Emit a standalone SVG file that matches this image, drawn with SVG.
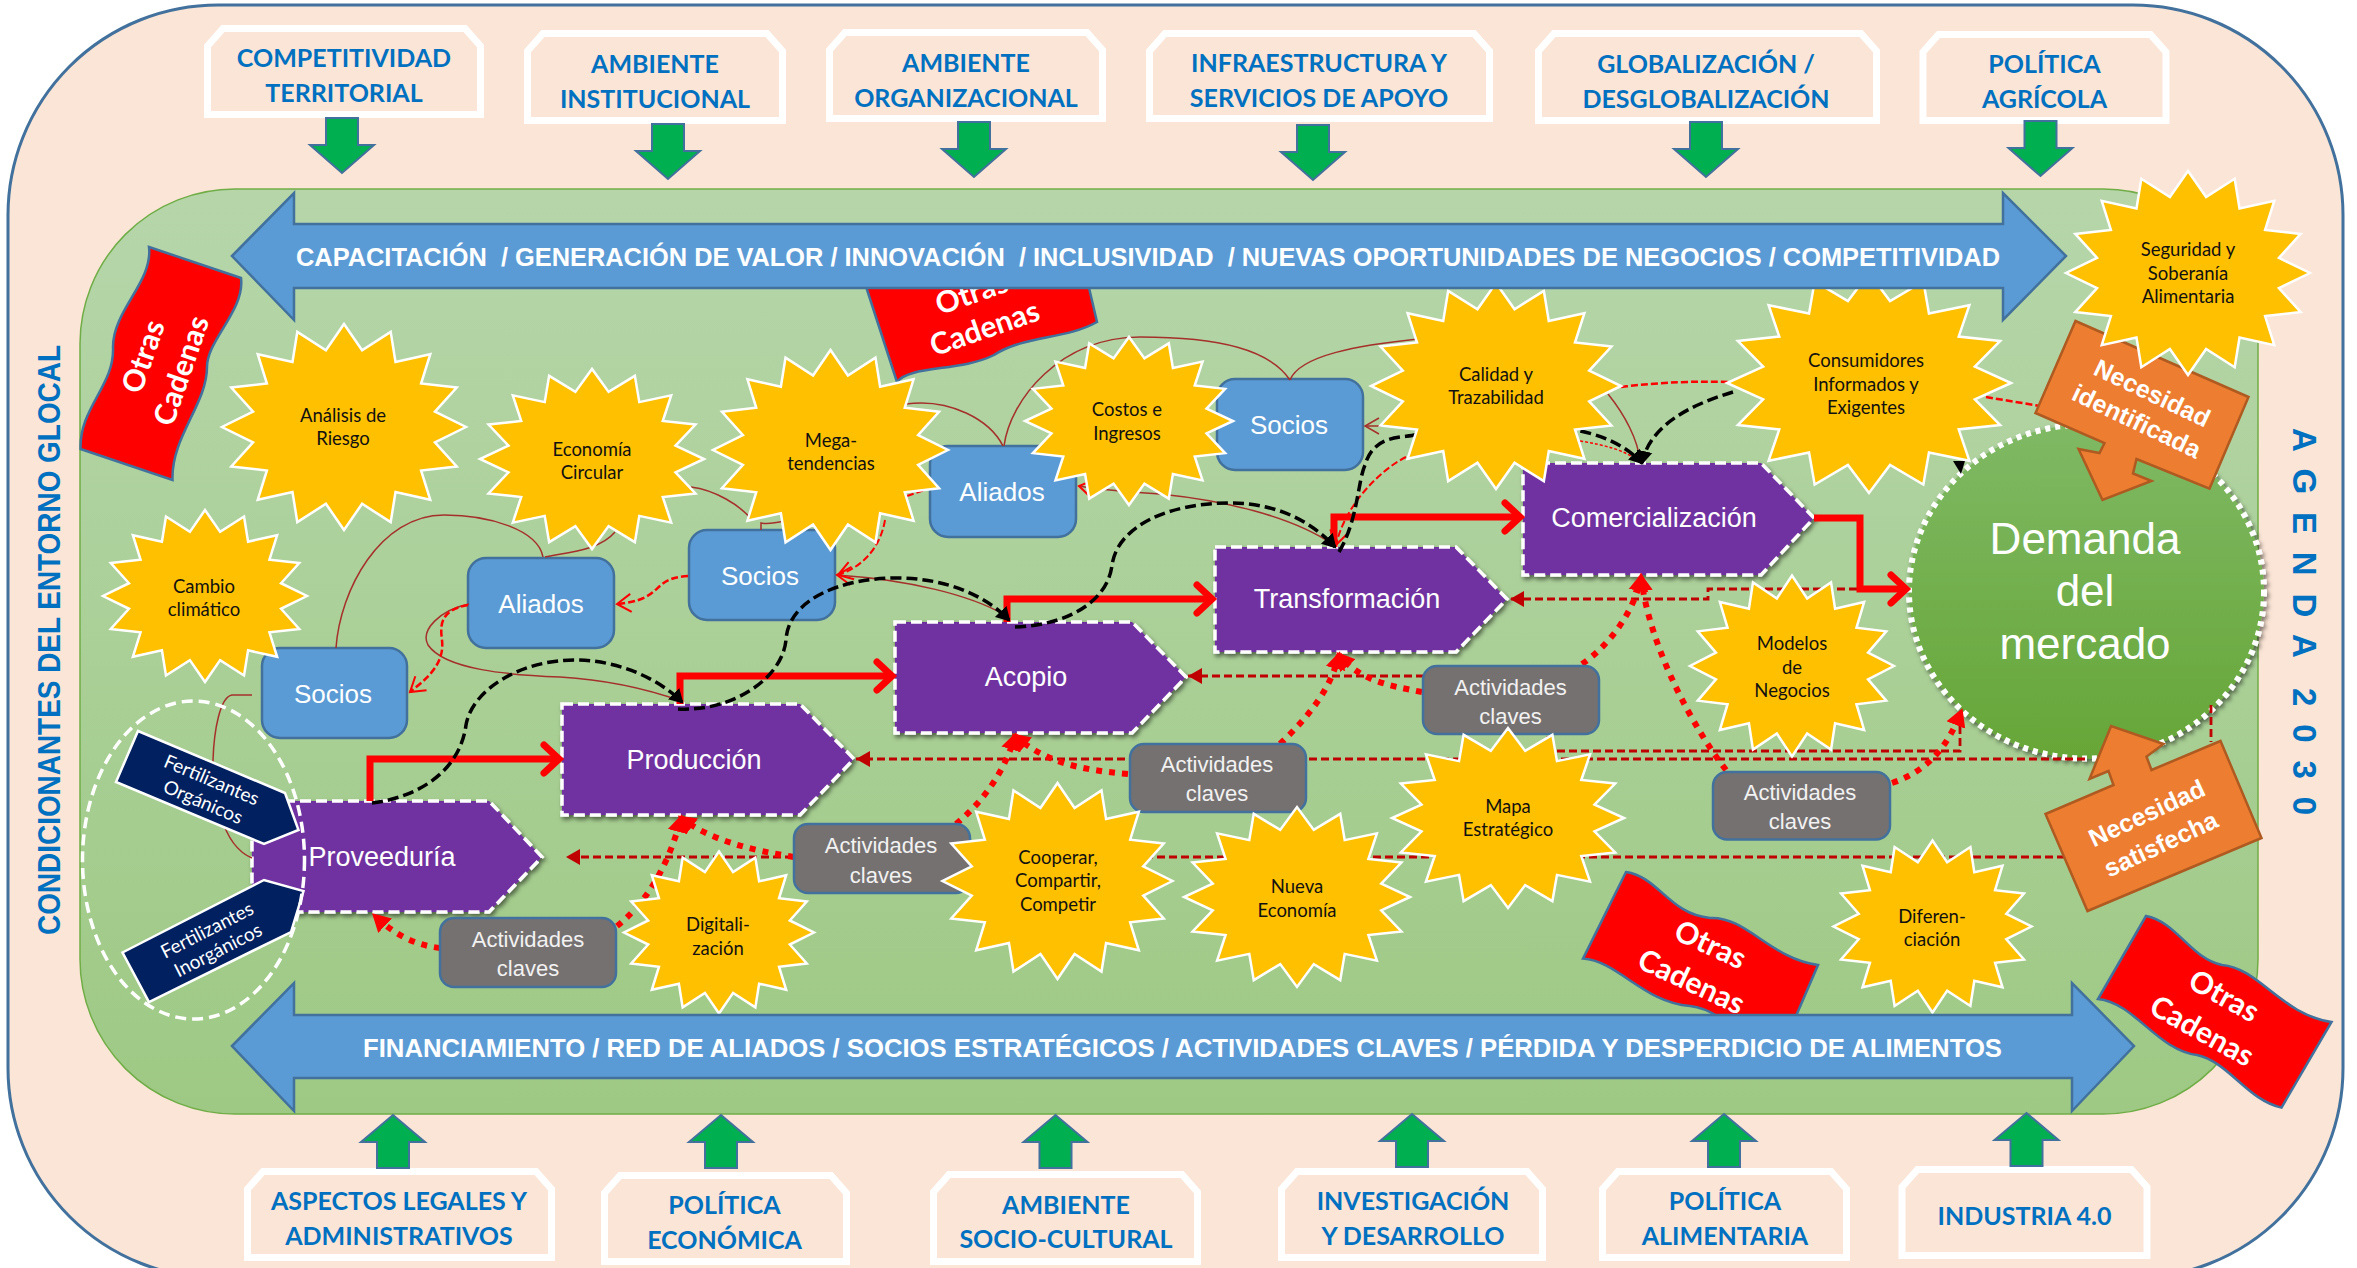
<svg xmlns="http://www.w3.org/2000/svg" width="2357" height="1268" viewBox="0 0 2357 1268">
<style>
.box{fill:none;stroke:#fff;stroke-width:7;stroke-linejoin:miter}
.bt{font:700 25px Lato,"Liberation Sans",sans-serif;fill:#0070c0;text-anchor:middle}
.bar{fill:#5b9bd5;stroke:#41719c;stroke-width:2.5}
.bart{font:700 26px "Liberation Sans",Arial,sans-serif;fill:#fff;white-space:pre}
.pr{fill:#7030a0;stroke:#fff;stroke-width:3.5;stroke-dasharray:11 5;filter:url(#sh)}
.prt{font:400 27px "Liberation Sans",Arial,sans-serif;fill:#fff;text-anchor:middle}
.bl{fill:#5b9bd5;stroke:#41719c;stroke-width:2.5}
.blt{font:400 26px "Liberation Sans",Arial,sans-serif;fill:#fff;text-anchor:middle}
.gr{fill:#767171;stroke:#41719c;stroke-width:2.5}
.grt{font:400 22px "Liberation Sans",Arial,sans-serif;fill:#f2f2f2;text-anchor:middle}
.st{font:400 18.5px Lato,"Liberation Sans",sans-serif;fill:#111;text-anchor:middle}
.nv{fill:#002060;stroke:#fff;stroke-width:2.5}
.nvt{font:400 19px Lato,"Liberation Sans",sans-serif;fill:#fff;text-anchor:middle}
.fl{fill:#f00;stroke:#41719c;stroke-width:2.5}
.flt{font:700 30px Lato,"Liberation Sans",sans-serif;fill:#fff;text-anchor:middle}
.or{fill:#ed7d31;stroke:#ae5a21;stroke-width:2.5}
.ort{font:700 25px "Liberation Sans",Arial,sans-serif;fill:#fff;text-anchor:middle}
.side{font:700 32px "Liberation Sans",Arial,sans-serif;fill:#0070c0;white-space:pre}
.thick{fill:none;stroke:#f00;stroke-width:7;marker-end:url(#mThick)}
.blk{fill:none;stroke:#000;stroke-width:3.5;stroke-dasharray:11 5;marker-end:url(#mBlk)}
.thin{fill:none;stroke:#a5302b;stroke-width:1.5}
.rd{fill:none;stroke:#f00;stroke-width:2;stroke-dasharray:7 3}
.dr{fill:none;stroke:#c00000;stroke-width:2.8;stroke-dasharray:8 4}
.dot{fill:none;stroke:#f00;stroke-width:6;stroke-dasharray:6 7;marker-end:url(#mDot)}
</style>
<defs>
<linearGradient id="gg" x1="0" y1="0" x2="0" y2="1"><stop offset="0" stop-color="#b6d6aa"/><stop offset="1" stop-color="#9ec984"/></linearGradient>
<linearGradient id="gd" x1="0" y1="0" x2="0" y2="1"><stop offset="0" stop-color="#7fb964"/><stop offset="1" stop-color="#66a637"/></linearGradient>
<filter id="sh" x="-10%" y="-10%" width="120%" height="125%"><feDropShadow dx="2" dy="3" stdDeviation="2" flood-color="#000" flood-opacity=".5"/></filter>
<polygon id="star" vector-effect="non-scaling-stroke" fill="#ffc000" stroke="#fff" stroke-width="2.5" points="1,0 .7454,.1483 .9239,.3827 .6319,.4222 .7071,.7071 .4222,.6319 .3827,.9239 .1483,.7454 0,1 -.1483,.7454 -.3827,.9239 -.4222,.6319 -.7071,.7071 -.6319,.4222 -.9239,.3827 -.7454,.1483 -1,0 -.7454,-.1483 -.9239,-.3827 -.6319,-.4222 -.7071,-.7071 -.4222,-.6319 -.3827,-.9239 -.1483,-.7454 0,-1 .1483,-.7454 .3827,-.9239 .4222,-.6319 .7071,-.7071 .6319,-.4222 .9239,-.3827 .7454,-.1483"/>
<polygon id="dn" fill="#00b050" stroke="#41719c" stroke-width="2" points="-16,0 16,0 16,27 32,27 0,55 -32,27 -16,27"/>
<polygon id="up" fill="#00b050" stroke="#41719c" stroke-width="2" points="0,0 32,27 16,27 16,53 -16,53 -16,27 -32,27"/>
<marker id="mThick" markerUnits="userSpaceOnUse" markerWidth="30" markerHeight="44" refX="24" refY="22" orient="auto"><path d="M9,8 L24,22 L9,36" fill="none" stroke="#f00" stroke-width="7" stroke-linecap="round"/></marker>
<marker id="mBlk" markerUnits="userSpaceOnUse" markerWidth="20" markerHeight="20" refX="12" refY="10" orient="auto"><path d="M0,2 L14,10 L0,18Z" fill="#000"/></marker>
<marker id="mDot" markerUnits="userSpaceOnUse" markerWidth="24" markerHeight="24" refX="14" refY="12" orient="auto"><path d="M0,2 L18,12 L0,22Z" fill="#f00"/></marker>
<marker id="mDr" markerUnits="userSpaceOnUse" markerWidth="16" markerHeight="18" refX="14" refY="9" orient="auto"><path d="M0,1 L14,9 L0,17Z" fill="#c00000"/></marker>
<marker id="mOpen" markerUnits="userSpaceOnUse" markerWidth="18" markerHeight="20" refX="15" refY="10" orient="auto"><path d="M1,1 L15,10 L1,19" fill="none" stroke="#f00" stroke-width="2"/></marker>
<marker id="mOpenB" markerUnits="userSpaceOnUse" markerWidth="18" markerHeight="20" refX="15" refY="10" orient="auto"><path d="M1,2 L15,10 L1,18" fill="none" stroke="#a5302b" stroke-width="1.5"/></marker>
</defs>

<g id="frame"><rect x="8" y="5" width="2335" height="1273" rx="210" ry="210" fill="#fbe5d6" stroke="#41719c" stroke-width="3"/></g>
<g id="inner"><rect x="80" y="189" width="2178" height="925" rx="155" ry="155" fill="url(#gg)" stroke="#70ad47" stroke-width="1.5"/></g>

<g id="top-competitividad"><polygon class="box" points="207.5,46 223,28.5 465,28.5 480.5,46 480.5,114.5 207.5,114.5"/><text class="bt" x="344" y="67">COMPETITIVIDAD</text><text class="bt" x="344" y="102">TERRITORIAL</text><use href="#dn" x="342" y="118"/></g>
<g id="top-institucional"><polygon class="box" points="527.5,51 543,33.5 767,33.5 782.5,51 782.5,120.5 527.5,120.5"/><text class="bt" x="655" y="73">AMBIENTE</text><text class="bt" x="655" y="108">INSTITUCIONAL</text><use href="#dn" x="668" y="124"/></g>
<g id="top-organizacional"><polygon class="box" points="829.5,50 845,32.5 1087,32.5 1102.5,50 1102.5,118.5 829.5,118.5"/><text class="bt" x="966" y="72">AMBIENTE</text><text class="bt" x="966" y="107">ORGANIZACIONAL</text><use href="#dn" x="974" y="122"/></g>
<g id="top-infraestructura"><polygon class="box" points="1149.5,51 1165,33.5 1474,33.5 1489.5,51 1489.5,118.5 1149.5,118.5"/><text class="bt" x="1319" y="72">INFRAESTRUCTURA Y</text><text class="bt" x="1319" y="107">SERVICIOS DE APOYO</text><use href="#dn" x="1313" y="125"/></g>
<g id="top-globalizacion"><polygon class="box" points="1538.5,51 1554,33.5 1861,33.5 1876.5,51 1876.5,120.5 1538.5,120.5"/><text class="bt" x="1706" y="73">GLOBALIZACIÓN /</text><text class="bt" x="1706" y="108">DESGLOBALIZACIÓN</text><use href="#dn" x="1706" y="122"/></g>
<g id="top-agricola" transform="translate(-2.5,0)"><polygon class="box" points="1925.5,52 1941,34.5 2153,34.5 2168.5,52 2168.5,120.5 1925.5,120.5"/><text class="bt" x="2047" y="73">POLÍTICA</text><text class="bt" x="2047" y="108">AGRÍCOLA</text><use href="#dn" x="2043" y="121"/></g>

<g id="bot-legales"><polygon class="box" points="247.5,1189 263,1171.5 536,1171.5 551.5,1189 551.5,1257.5 247.5,1257.5"/><text class="bt" x="399" y="1210">ASPECTOS LEGALES Y</text><text class="bt" x="399" y="1244.5">ADMINISTRATIVOS</text><use href="#up" x="393" y="1115"/></g>
<g id="bot-economica"><polygon class="box" points="604.5,1193 620,1175.5 831,1175.5 846.5,1193 846.5,1261.5 604.5,1261.5"/><text class="bt" x="724.5" y="1214">POLÍTICA</text><text class="bt" x="724.5" y="1249">ECONÓMICA</text><use href="#up" x="721" y="1115"/></g>
<g id="bot-sociocultural"><polygon class="box" points="933.5,1192 949,1174.5 1182,1174.5 1197.5,1192 1197.5,1261.5 933.5,1261.5"/><text class="bt" x="1066" y="1213.5">AMBIENTE</text><text class="bt" x="1066" y="1248">SOCIO-CULTURAL</text><use href="#up" x="1055.5" y="1115"/></g>
<g id="bot-investigacion"><polygon class="box" points="1281.5,1189 1297,1171.5 1527,1171.5 1542.5,1189 1542.5,1257.5 1281.5,1257.5"/><text class="bt" x="1413" y="1210">INVESTIGACIÓN</text><text class="bt" x="1413" y="1244.5">Y DESARROLLO</text><use href="#up" x="1412" y="1114"/></g>
<g id="bot-alimentaria" transform="translate(-1,0)"><polygon class="box" points="1603.5,1189 1619,1171.5 1832,1171.5 1847.5,1189 1847.5,1257.5 1603.5,1257.5"/><text class="bt" x="1726" y="1210">POLÍTICA</text><text class="bt" x="1726" y="1244.5">ALIMENTARIA</text><use href="#up" x="1725" y="1114"/></g>
<g id="bot-industria" transform="translate(-2.5,0)"><polygon class="box" points="1904.5,1187 1920,1169.5 2134,1169.5 2149.5,1187 2149.5,1255.5 1904.5,1255.5"/><text class="bt" x="2027" y="1225">INDUSTRIA 4.0</text><use href="#up" x="2029" y="1113"/></g>

<text class="side" transform="translate(60,935) rotate(-90)" textLength="590" lengthAdjust="spacingAndGlyphs">CONDICIONANTES DEL ENTORNO GLOCAL</text>
<text class="side" style="font-size:33px" transform="translate(2293,428) rotate(90)" textLength="387" lengthAdjust="spacing">A G E N D A  2 0 3 0</text>

<g id="flag-2"><path class="fl" d="M858,262 L1083,262 L1097,322 C1065,340 1025,335 994,355 C960,372 910,365 897,382 Z"/><text class="flt" transform="translate(975,303) rotate(-19)">Otras</text><text class="flt" transform="translate(988,338) rotate(-19)">Cadenas</text></g>
<g id="flag-3"><path class="fl" d="M1626,872 C1659,877 1669,914 1710,918 C1746,916 1771,959 1818,965 L1777,1060 C1747,1050 1727,1010 1690,1006 C1644,1003 1618,961 1583,958.6 Z"/><text class="flt" transform="translate(1706,954) rotate(25)">Otras</text><text class="flt" transform="translate(1687,991) rotate(25)">Cadenas</text></g>

<g id="proveeduria"><polygon class="pr" points="252,801 489,801 542,857 489,912 252,912"/><text class="prt" x="382" y="866">Proveeduría</text></g>
<g id="produccion"><polygon class="pr" points="562,704 800,704 854,759 800,815 562,815"/><text class="prt" x="694" y="769">Producción</text></g>
<g id="acopio"><polygon class="pr" points="895,622 1132,622 1186,677 1132,733 895,733"/><text class="prt" x="1026" y="686">Acopio</text></g>
<g id="transformacion"><polygon class="pr" points="1215,547 1456,547 1507,599 1456,652 1215,652"/><text class="prt" x="1347" y="608">Transformación</text></g>
<g id="comercializacion"><polygon class="pr" points="1523,463 1761,463 1814,518 1761,575 1523,575"/><text class="prt" x="1654" y="527">Comercialización</text></g>
<g id="demanda"><ellipse cx="2086.5" cy="591.5" rx="177.5" ry="167" fill="url(#gd)" stroke="#fff" stroke-width="6" stroke-dasharray="5 5" filter="url(#sh)"/><text x="2085" y="554" font-family="Liberation Sans, Arial, sans-serif" font-size="44" fill="#fff" text-anchor="middle">Demanda</text><text x="2085" y="606" font-family="Liberation Sans, Arial, sans-serif" font-size="44" fill="#fff" text-anchor="middle">del</text><text x="2085" y="659" font-family="Liberation Sans, Arial, sans-serif" font-size="44" fill="#fff" text-anchor="middle">mercado</text></g>

<g id="socios-1"><rect class="bl" x="262" y="648" width="145" height="90" rx="18"/><text class="blt" x="333" y="703">Socios</text></g>
<g id="aliados-1"><rect class="bl" x="468" y="558" width="146" height="90" rx="18"/><text class="blt" x="541" y="613">Aliados</text></g>
<g id="socios-2"><rect class="bl" x="689" y="530" width="146" height="90" rx="18"/><text class="blt" x="760" y="585">Socios</text></g>
<g id="aliados-2"><rect class="bl" x="930" y="446" width="146" height="91" rx="18"/><text class="blt" x="1002" y="501">Aliados</text></g>
<g id="socios-3"><rect class="bl" x="1217" y="379" width="146" height="91" rx="18"/><text class="blt" x="1289" y="434">Socios</text></g>

<g id="connectors">
<path class="dr" marker-end="url(#mDr)" d="M2065,857 H566"/>
<path class="dr" marker-end="url(#mDr)" d="M2085,759 H856"/>
<path class="dr" marker-end="url(#mDr)" d="M1960,726 V751 H1548 V676 H1188"/>
<path class="dr" marker-end="url(#mDr)" d="M1905,589 H1708 V599 H1510"/>
<path class="dr" d="M2211,705 V742"/>
<path class="thin" d="M543,557 C538,530 490,515 444,515 C380,515 340,590 336,648"/>
<path class="thin" d="M545,557 C570,552 600,550 615,532"/>
<path class="thin" d="M469,604 C440,610 420,630 428,645 C445,670 510,675 560,677 C610,680 650,690 681,701"/>
<path class="thin" d="M252,695 H232 C220,697 214,730 213,760 C213,790 220,845 252,858"/>
<path class="thin" d="M691,487 C715,490 740,505 752,520"/>
<path class="thin" d="M761,530 V523 C770,525 780,522 790,520"/>
<path class="thin" d="M906,404 C950,398 990,420 1003,446"/>
<path class="thin" d="M1004,446 C1010,400 1060,337 1140,337 C1220,337 1270,350 1290,380"/>
<path class="thin" d="M1290,380 C1300,355 1360,345 1418,339"/>
<path class="thin" marker-end="url(#mOpenB)" d="M1387,426 H1365"/>
<path class="thin" marker-end="url(#mOpen)" d="M1334,545 C1290,515 1220,500 1160,494 C1130,492 1100,490 1079,486"/>
<path class="thin" marker-end="url(#mOpen)" d="M1005,615 C970,595 910,580 837,575"/>
<path class="thin" d="M1608,394 C1625,415 1638,440 1640,461"/>
<path class="rd" marker-end="url(#mOpen)" d="M885,520 C880,550 860,568 838,575"/>
<path class="rd" style="stroke-width:2.5" marker-end="url(#mOpen)" d="M688,576 C650,578 665,600 617,604"/>
<path class="rd" style="stroke-width:2.5" marker-end="url(#mOpen)" d="M468,605 C440,610 440,625 442,640 C445,665 425,680 410,692"/>
<path class="rd" marker-end="url(#mOpen)" d="M1406,457 C1380,470 1345,505 1336,545"/>
<path class="rd" d="M907,496 L925,490"/>
<path class="rd" style="stroke-width:2.5" d="M1621,387 C1660,382 1700,381 1730,382"/>
<path class="rd" style="stroke-width:1.5;stroke-dasharray:3 2" d="M1580,441 C1605,445 1625,450 1640,462"/>
<path class="rd" style="stroke-width:2.5" d="M1986,397 L2040,406"/>
<path class="thick" d="M370,801 V759 H559"/>
<path class="thick" d="M680,704 V676 H892"/>
<path class="thick" d="M1007,622 V599 H1212"/>
<path class="thick" d="M1334,547 V517 H1520"/>
<path class="thick" d="M1814,518 H1860 V589 H1906"/>
<path class="blk" d="M372,803 C420,797 460,770 466,725 C472,690 520,660 575,660 C620,660 660,680 682,702"/>
<path class="blk" d="M678,709 C730,712 782,680 786,640 C788,600 840,578 897,578 C945,578 985,595 1009,620"/>
<path class="blk" d="M1015,627 C1070,625 1108,600 1112,565 C1118,525 1170,503 1230,503 C1275,503 1310,520 1335,547"/>
<path class="blk" d="M1339,552 C1358,520 1358,480 1365,465 C1375,430 1410,440 1420,433 L1580,431 C1610,437 1630,450 1642,463"/>
<path class="blk" d="M1733,392 C1690,405 1650,425 1642,463"/>
<polygon points="1953,461 1965,461 1961,474" fill="#000"/>
<path class="dot" d="M440,948 C415,945 395,935 375,916"/>
<path class="dot" d="M617,926 C650,900 670,860 681,818"/>
<path class="dot" d="M794,857 C750,850 710,840 681,818"/>
<path class="dot" d="M956,824 C985,800 1005,770 1015,736"/>
<path class="dot" d="M1128,774 C1080,770 1045,762 1015,736"/>
<path class="dot" d="M1280,744 C1310,715 1330,690 1339,655"/>
<path class="dot" d="M1422,692 C1385,685 1360,680 1339,655"/>
<path class="dot" d="M1582,664 C1610,645 1635,610 1641,577"/>
<path class="dot" d="M1726,770 C1695,730 1650,650 1641,577"/>
<path class="dot" d="M1892,783 C1930,770 1948,745 1961,712"/>
</g>

<g id="act-1"><rect class="gr" x="440" y="918" width="176" height="69" rx="14"/><text class="grt" x="528" y="947">Actividades</text><text class="grt" x="528" y="976">claves</text></g>
<g id="act-2"><rect class="gr" x="794" y="824" width="176" height="69" rx="14"/><text class="grt" x="881" y="853">Actividades</text><text class="grt" x="881" y="883">claves</text></g>
<g id="act-3"><rect class="gr" x="1130" y="744" width="176" height="68" rx="14"/><text class="grt" x="1217" y="772">Actividades</text><text class="grt" x="1217" y="801">claves</text></g>
<g id="act-4"><rect class="gr" x="1423" y="666" width="176" height="68" rx="14"/><text class="grt" x="1510.5" y="694.5">Actividades</text><text class="grt" x="1510.5" y="724">claves</text></g>
<g id="act-5"><rect class="gr" x="1713" y="772" width="177" height="67.5" rx="14"/><text class="grt" x="1800" y="799.5">Actividades</text><text class="grt" x="1800" y="829">claves</text></g>

<g id="nec-identificada" transform="translate(-2.5,0)"><polygon class="or" points="2078,321 2251,397 2212,488.6 2139,459 2135.5,473.5 2154,481 2105,500 2081,449 2102,453 2107,443 2038,413"/><text class="ort" transform="translate(2151,401) rotate(25.5)">Necesidad</text><text class="ort" transform="translate(2135.5,429) rotate(25.5)">identificada</text></g>
<g id="nec-satisfecha" transform="translate(-2.5,0)"><polygon class="or" points="2048,814 2116,785 2111,771 2092,779 2113.6,726 2166,744 2149,756.6 2154,770 2223,741 2264,838 2090,911"/><text class="ort" transform="translate(2153,821) rotate(-25)">Necesidad</text><text class="ort" transform="translate(2167,852) rotate(-25)">satisfecha</text></g>

<g id="sun-analisis"><use href="#star" transform="translate(344,427) scale(122,103)"/><text class="st" x="343" y="421.5">Análisis de</text><text class="st" x="343" y="445">Riesgo</text></g>
<g id="sun-economia"><use href="#star" transform="translate(592,459) scale(112,90)"/><text class="st" x="592" y="455.5">Economía</text><text class="st" x="592" y="479">Circular</text></g>
<g id="sun-cambio"><use href="#star" transform="translate(205,596) scale(102,86)"/><text class="st" x="204" y="592.5">Cambio</text><text class="st" x="204" y="615.5">climático</text></g>
<g id="sun-mega"><use href="#star" transform="translate(830.5,450) scale(117.5,100)"/><text class="st" x="831" y="447">Mega-</text><text class="st" x="831" y="470">tendencias</text></g>
<g id="sun-costos"><use href="#star" transform="translate(1129,421) scale(104,84)"/><text class="st" x="1127" y="416">Costos e</text><text class="st" x="1127" y="440">Ingresos</text></g>
<g id="sun-calidad"><use href="#star" transform="translate(1496,386) scale(125,103)"/><text class="st" x="1496" y="381">Calidad y</text><text class="st" x="1496" y="404">Trazabilidad</text></g>
<g id="sun-consumidores"><use href="#star" transform="translate(1869,383) scale(142,110)"/><text class="st" x="1866" y="367">Consumidores</text><text class="st" x="1866" y="391">Informados y</text><text class="st" x="1866" y="414">Exigentes</text></g>
<g id="sun-seguridad"><use href="#star" transform="translate(2188,273) scale(122,102)"/><text class="st" x="2188" y="256">Seguridad y</text><text class="st" x="2188" y="280">Soberanía</text><text class="st" x="2188" y="303">Alimentaria</text></g>
<g id="sun-modelos"><use href="#star" transform="translate(1792,666) scale(102,90.5)"/><text class="st" x="1792" y="650">Modelos</text><text class="st" x="1792" y="674">de</text><text class="st" x="1792" y="697">Negocios</text></g>
<g id="sun-mapa"><use href="#star" transform="translate(1508,818) scale(116,90)"/><text class="st" x="1508" y="812.5">Mapa</text><text class="st" x="1508" y="836">Estratégico</text></g>
<g id="sun-nueva"><use href="#star" transform="translate(1297,897) scale(113,90)"/><text class="st" x="1297" y="893">Nueva</text><text class="st" x="1297" y="916.5">Economía</text></g>
<g id="sun-cooperar"><use href="#star" transform="translate(1057.5,881) scale(115,98)"/><text class="st" x="1058" y="864">Cooperar,</text><text class="st" x="1058" y="887">Compartir,</text><text class="st" x="1058" y="910.5">Competir</text></g>
<g id="sun-digital"><use href="#star" transform="translate(719,932.5) scale(95,81)"/><text class="st" x="718" y="931">Digitali-</text><text class="st" x="718" y="954.5">zación</text></g>
<g id="sun-diferen"><use href="#star" transform="translate(1932.5,926.5) scale(99,86)"/><text class="st" x="1932" y="923">Diferen-</text><text class="st" x="1932" y="946">ciación</text></g>

<g id="fertilizantes-org"><polygon class="nv" points="138,731 285,793 298.5,830 264,844 116,782"/><text class="nvt" transform="translate(209,786) rotate(23)">Fertilizantes</text><text class="nvt" transform="translate(200.5,808) rotate(23)">Orgánicos</text></g>
<g id="fertilizantes-inorg"><polygon class="nv" points="122.5,952.5 264,880 303.5,891 291,932 149,1002"/><text class="nvt" transform="translate(210,936) rotate(-27)">Fertilizantes</text><text class="nvt" transform="translate(221,956) rotate(-27)">Inorgánicos</text></g>
<g id="elipse"><ellipse cx="193.5" cy="860" rx="111" ry="159" fill="none" stroke="#fff" stroke-width="3.5" stroke-dasharray="11 6"/></g>

<g id="barra-superior"><polygon class="bar" points="232,256 294,193 294,224 2003,224 2003,193 2066,256 2003,320 2003,288 294,288 294,320"/><text class="bart" x="296" y="266" textLength="1704" lengthAdjust="spacingAndGlyphs">CAPACITACIÓN  / GENERACIÓN DE VALOR / INNOVACIÓN  / INCLUSIVIDAD  / NUEVAS OPORTUNIDADES DE NEGOCIOS / COMPETITIVIDAD</text></g>
<g id="barra-inferior"><polygon class="bar" points="232,1046 294,983 294,1015 2072,1015 2072,983 2134,1046 2072,1111 2072,1078 294,1078 294,1111"/><text class="bart" x="363" y="1057" textLength="1639" lengthAdjust="spacingAndGlyphs">FINANCIAMIENTO / RED DE ALIADOS / SOCIOS ESTRATÉGICOS / ACTIVIDADES CLAVES / PÉRDIDA Y DESPERDICIO DE ALIMENTOS</text></g>

<g id="flag-1"><path class="fl" d="M149,247 L241,278 C245,310 207,340 207,367 C207,404 171,437 172.5,480 L80.6,449 C79,408 115,385 113,347 C113,310 153,282 149,247 Z"/><text class="flt" transform="translate(153,360) rotate(-71)">Otras</text><text class="flt" transform="translate(191,374) rotate(-71)">Cadenas</text></g>
<g id="flag-4" transform="translate(-3,0)"><path class="fl" d="M2149,916 C2180,922 2193,958 2225,965 C2262,968 2285,1015 2334.5,1022 L2284.5,1107.6 C2250,1100 2232,1062 2200,1055 C2160,1050 2138,1003 2101,999 Z"/><text class="flt" transform="translate(2222,1005) rotate(29)">Otras</text><text class="flt" transform="translate(2200,1040) rotate(29)">Cadenas</text></g>
</svg>
